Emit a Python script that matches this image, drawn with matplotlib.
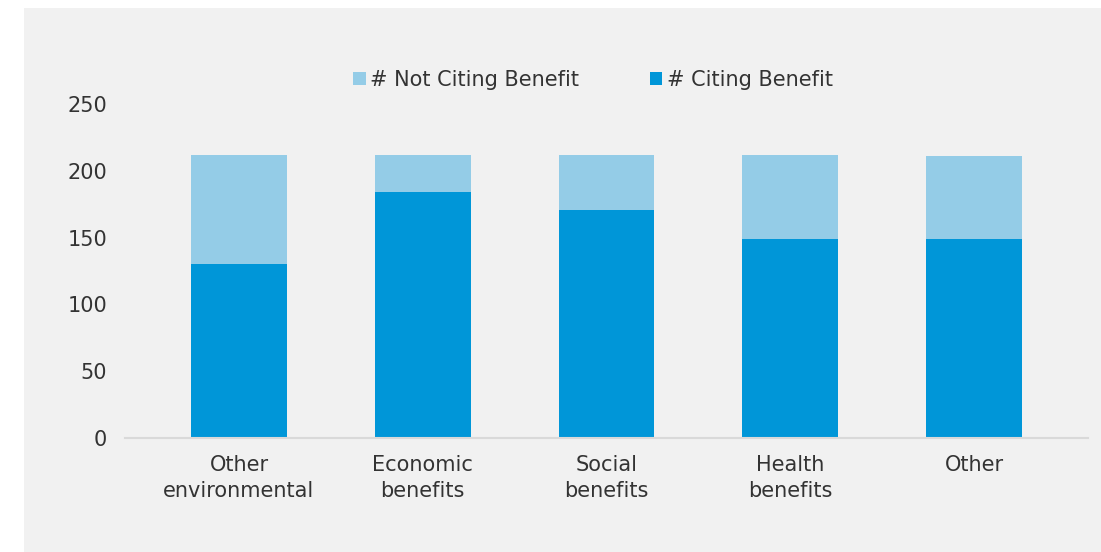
import matplotlib
matplotlib.use("Agg")
import matplotlib.pyplot as plt
from matplotlib.patches import Rectangle

categories = ["Other\nenvironmental", "Economic\nbenefits", "Social\nbenefits", "Health\nbenefits", "Other"]
citing = [130, 184, 171, 149, 149]
not_citing = [82, 28, 41, 63, 62]
yticks = [0, 50, 100, 150, 200, 250]

dark = "#0096d8"
light = "#94cce7"
bg = "#f1f1f1"
txt = "#333333"

plt.rcParams["font.family"] = ["DejaVu Sans"]

fig = plt.figure(figsize=(11.01, 5.52), dpi=100)
fig.patch.set_facecolor("white")
fig.patches.append(Rectangle((24 / 1101, 0), 1, 1 - 8 / 552, transform=fig.transFigure,
                             facecolor=bg, edgecolor="none", zorder=-10))

ax = fig.add_axes([125 / 1101, 1 - 438 / 552, (1088 - 125) / 1101, (438 - 104) / 552])
ax.patch.set_alpha(0)

x = list(range(len(categories)))
b1 = ax.bar(x, citing, width=0.52, color=dark, label="# Citing Benefit", zorder=2)
b2 = ax.bar(x, not_citing, width=0.52, bottom=citing, color=light,
            label="# Not Citing Benefit", zorder=2)

ax.set_xlim(-0.62, 4.62)
ax.set_ylim(0, 250)
ax.set_yticks(yticks)
ax.set_xticks(x)
ax.set_xticklabels(categories, fontsize=15, color=txt, linespacing=1.4)
ax.tick_params(axis="y", labelsize=15, labelcolor=txt, length=0, pad=13)
ax.tick_params(axis="x", length=0, pad=12)
for s in ["top", "right", "left"]:
    ax.spines[s].set_visible(False)
ax.spines["bottom"].set_color("#d9d9d9")
ax.spines["bottom"].set_linewidth(1.5)

leg = fig.legend([b2, b1], ["# Not Citing Benefit", "# Citing Benefit"], loc="center",
                 bbox_to_anchor=(593 / 1101, 1 - 80 / 552), ncol=2, frameon=False,
                 fontsize=15, handlelength=0.6, handleheight=0.6, handletextpad=0.2,
                 columnspacing=3.4)
for t in leg.get_texts():
    t.set_color(txt)

fig.savefig("out.png", dpi=100)
